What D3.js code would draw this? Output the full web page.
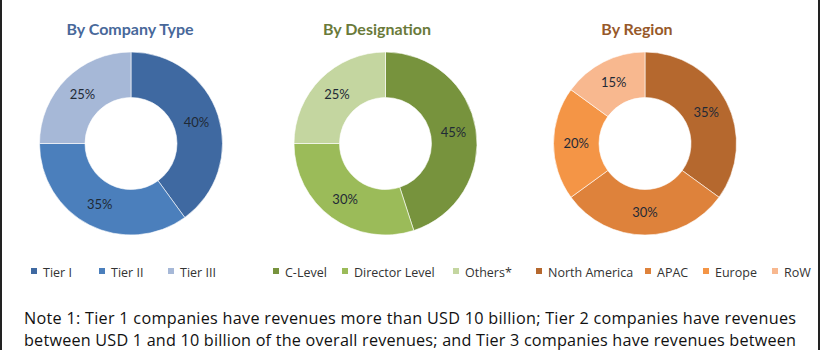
<!DOCTYPE html>
<html><head><meta charset="utf-8">
<script src="https://cdn.jsdelivr.net/npm/d3@7"></script>
<style>body{margin:0;background:#fff}svg{display:block}</style>
</head><body>
<svg id="c" width="820" height="350"></svg>
<script>
const titles = ["By Company Type", "By Designation", "By Region"];
const companyCats = ["Tier I", "Tier II", "Tier III"];
const companyVals = [40, 35, 25];
const designationCats = ["C-Level", "Director Level", "Others*"];
const designationVals = [45, 30, 25];
const regionCats = ["North America", "APAC", "Europe", "RoW"];
const regionVals = [35, 30, 20, 15];
const noteLines = [
  "Note 1: Tier 1 companies have revenues more than USD 10 billion; Tier 2 companies have revenues",
  "between USD 1 and 10 billion of the overall revenues; and Tier 3 companies have revenues between"
];

const charts = [
  {title: titles[0], cats: companyCats, vals: companyVals, colors: ["#3f69a1","#4b7fbc","#a6b8d7"], titleColor: "#48689a", cx: 131, titleX: 130, legX: [31, 99, 168]},
  {title: titles[1], cats: designationCats, vals: designationVals, colors: ["#77933d","#9bbb59","#c4d6a0"], titleColor: "#6a7a3a", cx: 385.5, titleX: 377, legX: [273, 342, 453]},
  {title: titles[2], cats: regionCats, vals: regionVals, colors: ["#b5682e","#de823b","#f49546","#f8b88f"], titleColor: "#97592a", cx: 645, titleX: 637, legX: [536, 645, 703, 772]}
];

const svg = d3.select("#c");
svg.append("rect").attr("x",0).attr("y",0).attr("width",820).attr("height",350).attr("fill","#fff");
svg.append("rect").attr("x",0).attr("y",0).attr("width",2).attr("height",350).attr("fill","#222");
svg.append("rect").attr("x",818).attr("y",0).attr("width",2).attr("height",350).attr("fill","#222");

const cy = 143.5, rOut = 91.5, rIn = 46;
const pie = d3.pie().sort(null).value(d => d);
const arc = d3.arc().innerRadius(rIn).outerRadius(rOut);

charts.forEach(ch => {
  const color = d3.scaleOrdinal().domain(ch.cats).range(ch.colors);
  svg.append("text").attr("x", ch.titleX).attr("y", 35).attr("text-anchor","middle")
    .attr("font-family","Lato, 'Open Sans', sans-serif").attr("font-weight","bold")
    .attr("font-size", 16).attr("fill", ch.titleColor).text(ch.title);
  const g = svg.append("g").attr("transform", `translate(${ch.cx},${cy})`);
  const arcs = pie(ch.vals);
  g.selectAll("path").data(arcs).join("path")
    .attr("d", arc).attr("fill", (d,i) => color(ch.cats[i]))
    .attr("stroke","#fff").attr("stroke-width",0.6);
  g.selectAll("text").data(arcs).join("text")
    .attr("transform", d => `translate(${arc.centroid(d)})`)
    .attr("dy","0.35em").attr("text-anchor","middle")
    .attr("font-family","Lato, 'Open Sans', sans-serif").attr("font-size", 13)
    .attr("fill","#1f2a36").text(d => d.data + "%");
  const lg = svg.append("g");
  ch.cats.forEach((c,i) => {
    lg.append("rect").attr("x", ch.legX[i]).attr("y", 268).attr("width",6).attr("height",6).attr("fill", color(c));
    lg.append("text").attr("x", ch.legX[i] + 12).attr("y", 277)
      .attr("font-family","'Open Sans', sans-serif").attr("font-size", 12.5)
      .attr("fill","#333").text(c);
  });
});

svg.selectAll("text.note").data(noteLines).join("text").attr("class","note")
  .attr("x", 410).attr("y", (d,i) => 324 + i*22).attr("text-anchor","middle")
  .attr("font-family","'Open Sans', sans-serif").attr("font-size", 16.2)
  .attr("textLength", 772).attr("lengthAdjust", "spacing")
  .attr("fill","#111").text(d => d);
</script>
</body></html>
